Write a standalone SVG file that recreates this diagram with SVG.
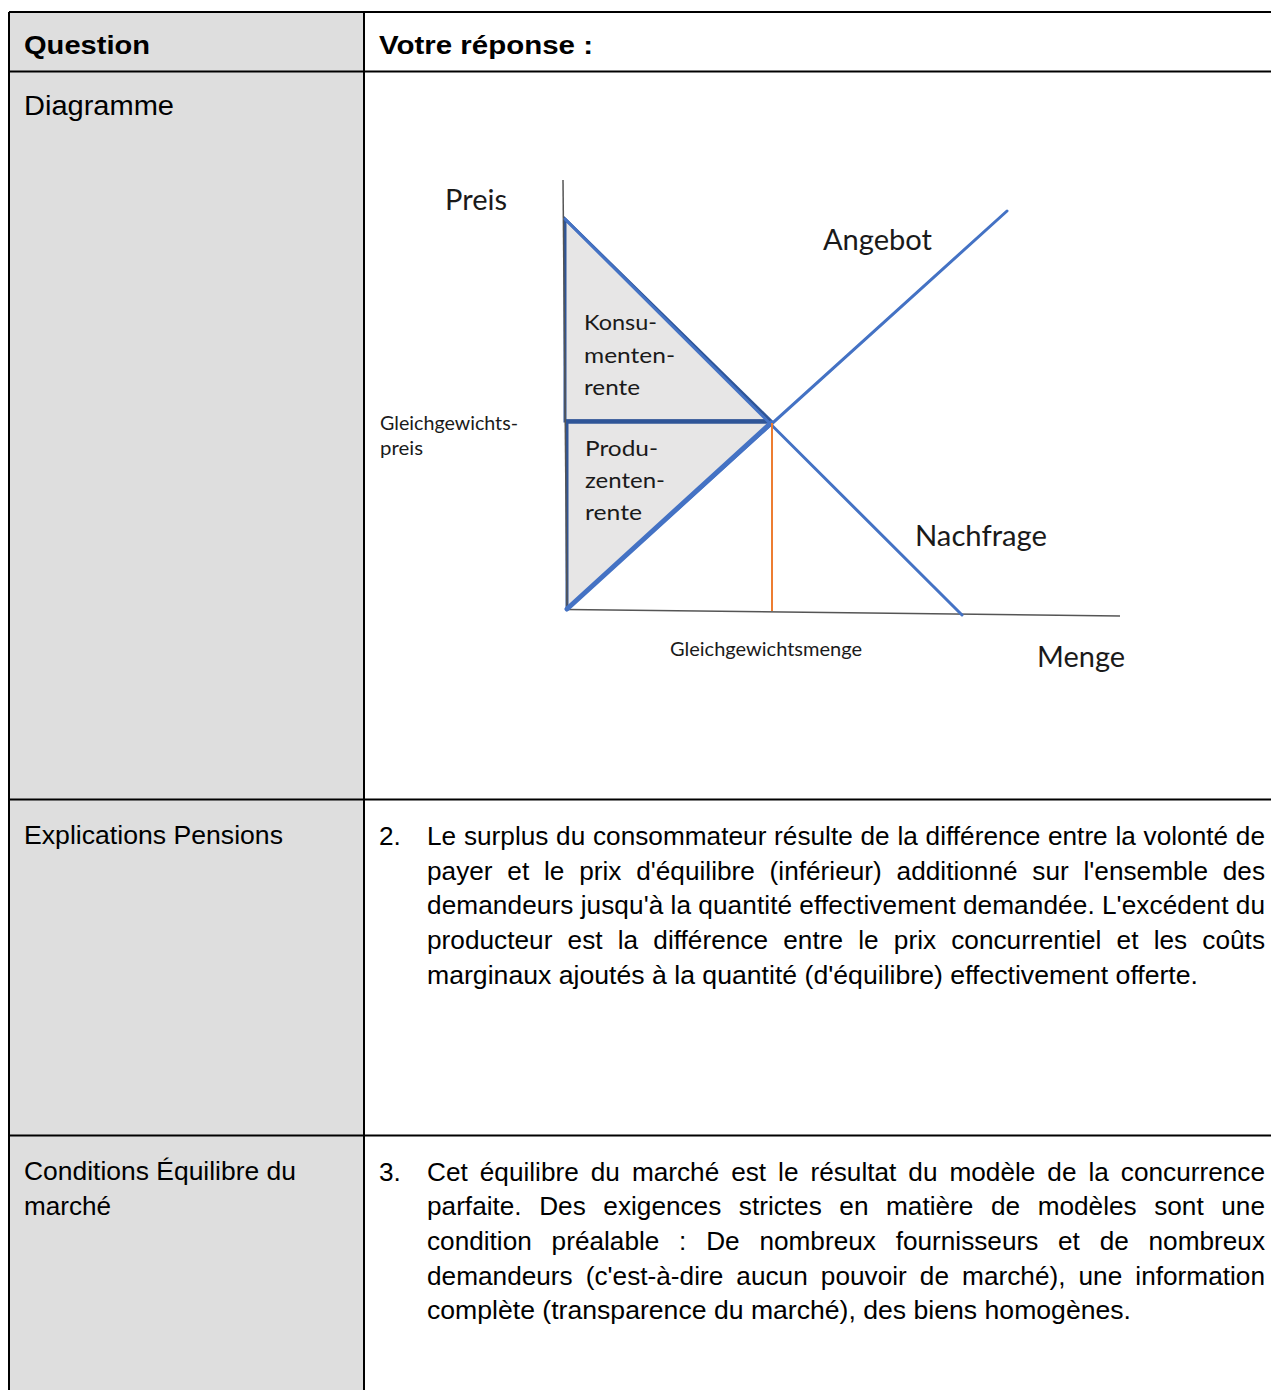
<svg xmlns="http://www.w3.org/2000/svg" width="1271" height="1390" viewBox="0 0 1271 1390">
<style>
.t{font-family:"Liberation Sans",Arial,sans-serif;font-size:26.2px;fill:#000}
.h{font-family:"Liberation Sans",Arial,sans-serif;font-size:26px;font-weight:bold;fill:#000}
.d{font-family:Lato,"Open Sans",sans-serif;fill:#1a1a1a}
.big{font-size:28px}
.mid{font-size:21px}
.sm{font-size:18.5px}
.grid{stroke:#000;stroke-width:2;fill:none}
.axis{stroke:#555;stroke-width:1.5;fill:none}
.curve{stroke:#4472C4;stroke-width:3;fill:none;stroke-linecap:round}
.area{fill:#e7e6e6;stroke:#2F5597;stroke-width:3;stroke-linejoin:miter}
</style>
<rect x="0" y="0" width="1271" height="1390" fill="#fff"/>
<g id="table">
<rect x="9" y="12" width="355" height="1378" fill="#dedede"/>
<path class="grid" d="M9 12H1271M9 71.5H1271M9 799.5H1271M9 1135.5H1271M9 12V1390M364 12V1390"/>
</g>
<g id="headers">
<text class="h" x="24" y="54" textLength="126" lengthAdjust="spacingAndGlyphs">Question</text>
<text class="h" x="379" y="54" textLength="214" lengthAdjust="spacingAndGlyphs">Votre réponse :</text>
</g>
<g id="row-diagramme">
<text class="t" x="24" y="115" style="font-size:27px" textLength="150" lengthAdjust="spacingAndGlyphs">Diagramme</text>
</g>
<g id="diagram">
<g id="surplus-areas">
<polygon class="area" points="565,219 565,421 771,421"/>
<polygon points="567,423 771,423 567,609" fill="#e7e6e6"/>
<line x1="567" y1="423" x2="567" y2="609" stroke="#2F5597" stroke-width="3"/>
<line x1="565" y1="421.5" x2="771" y2="421.5" stroke="#2F5597" stroke-width="4.5"/>
</g>
<g id="axes">
<line class="axis" x1="563" y1="180" x2="567" y2="610"/>
<line class="axis" x1="567" y1="609.5" x2="1120" y2="616"/>
</g>
<g id="connectors">
<line class="curve" x1="565" y1="219" x2="962" y2="615"/>
<line class="curve" x1="567" y1="609" x2="1007" y2="211"/>
<line x1="567" y1="609" x2="771" y2="423" stroke="#4472C4" stroke-width="5" stroke-linecap="round"/>
<line x1="772" y1="423" x2="772" y2="611" stroke="#ED7D31" stroke-width="2"/>
</g>
<g id="labels">
<text class="d big" x="445" y="210" textLength="62" lengthAdjust="spacingAndGlyphs">Preis</text>
<text class="d big" x="823" y="250" textLength="109" lengthAdjust="spacingAndGlyphs">Angebot</text>
<text class="d big" x="915" y="545.5" textLength="132" lengthAdjust="spacingAndGlyphs">Nachfrage</text>
<text class="d big" x="1037" y="666.5" textLength="88" lengthAdjust="spacingAndGlyphs">Menge</text>
<text class="d sm" x="670" y="656" textLength="192" lengthAdjust="spacingAndGlyphs">Gleichgewichtsmenge</text>
<text class="d sm" x="380" y="430" textLength="138" lengthAdjust="spacingAndGlyphs">Gleichgewichts-</text>
<text class="d sm" x="380" y="455" textLength="43" lengthAdjust="spacingAndGlyphs">preis</text>
<text class="d mid" x="584" y="330" textLength="73" lengthAdjust="spacingAndGlyphs">Konsu-</text>
<text class="d mid" x="584" y="362.5" textLength="91" lengthAdjust="spacingAndGlyphs">menten-</text>
<text class="d mid" x="584" y="394.5" textLength="56" lengthAdjust="spacingAndGlyphs">rente</text>
<text class="d mid" x="585" y="455.5" textLength="73" lengthAdjust="spacingAndGlyphs">Produ-</text>
<text class="d mid" x="585" y="488" textLength="80" lengthAdjust="spacingAndGlyphs">zenten-</text>
<text class="d mid" x="585" y="520" textLength="57" lengthAdjust="spacingAndGlyphs">rente</text>
</g>
</g>
<g id="row-explications">
<text class="t" x="24" y="844" textLength="259" lengthAdjust="spacingAndGlyphs">Explications Pensions</text>
<text class="t" x="379" y="845">2.</text>
<text class="t" x="427" y="845" style="word-spacing:0.45px" textLength="838" lengthAdjust="spacing">Le surplus du consommateur résulte de la différence entre la volonté de</text>
<text class="t" x="427" y="879.7" style="word-spacing:7.5px" textLength="838" lengthAdjust="spacing">payer et le prix d'équilibre (inférieur) additionné sur l'ensemble des</text>
<text class="t" x="427" y="914.4" style="word-spacing:-0.2px" textLength="838" lengthAdjust="spacing">demandeurs jusqu'à la quantité effectivement demandée. L'excédent du</text>
<text class="t" x="427" y="949.1" style="word-spacing:7.9px" textLength="838" lengthAdjust="spacing">producteur est la différence entre le prix concurrentiel et les coûts</text>
<text class="t" x="427" y="983.8" textLength="771" lengthAdjust="spacingAndGlyphs">marginaux ajoutés à la quantité (d'équilibre) effectivement offerte.</text>
</g>
<g id="row-conditions">
<text class="t" x="24" y="1180" textLength="272" lengthAdjust="spacingAndGlyphs">Conditions Équilibre du</text>
<text class="t" x="24" y="1215" textLength="87" lengthAdjust="spacingAndGlyphs">marché</text>
<text class="t" x="379" y="1180.5">3.</text>
<text class="t" x="427" y="1180.5" style="word-spacing:4.7px" textLength="838" lengthAdjust="spacing">Cet équilibre du marché est le résultat du modèle de la concurrence</text>
<text class="t" x="427" y="1215.2" style="word-spacing:10.3px" textLength="838" lengthAdjust="spacing">parfaite. Des exigences strictes en matière de modèles sont une</text>
<text class="t" x="427" y="1249.9" style="word-spacing:12.5px" textLength="838" lengthAdjust="spacing">condition préalable : De nombreux fournisseurs et de nombreux</text>
<text class="t" x="427" y="1284.6" style="word-spacing:5.8px" textLength="838" lengthAdjust="spacing">demandeurs (c'est-à-dire aucun pouvoir de marché), une information</text>
<text class="t" x="427" y="1319.3" textLength="704" lengthAdjust="spacingAndGlyphs">complète (transparence du marché), des biens homogènes.</text>
</g>
</svg>
